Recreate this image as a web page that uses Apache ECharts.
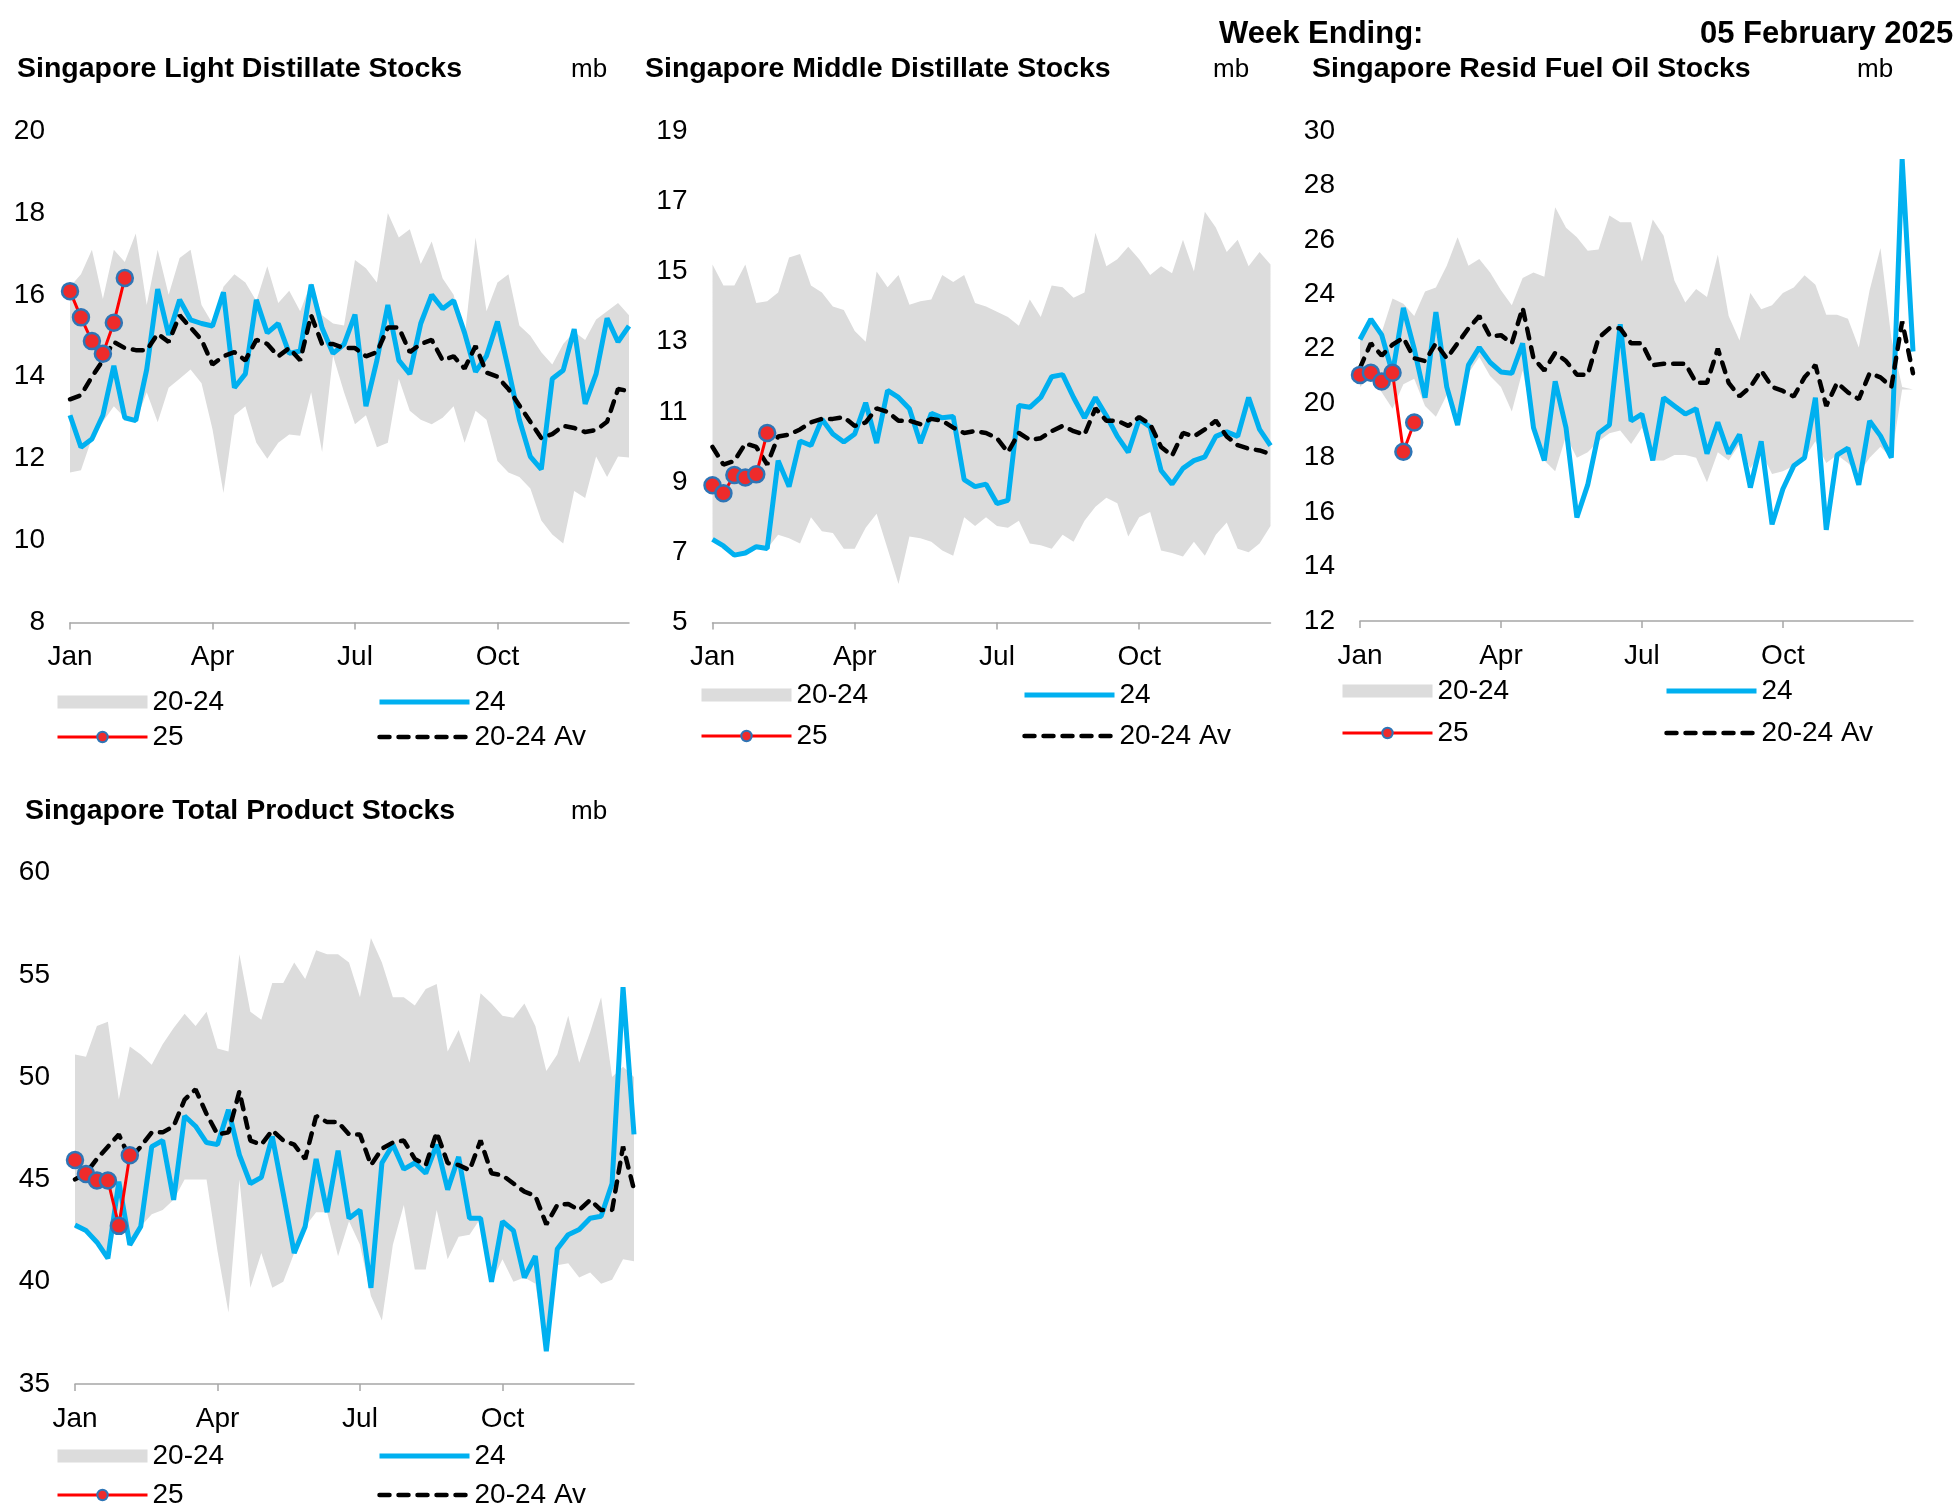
<!DOCTYPE html>
<html>
<head>
<meta charset="utf-8">
<script src="https://cdn.jsdelivr.net/npm/echarts@6/dist/echarts.min.js"></script>
<style>
html, body { margin: 0; padding: 0; background: #fff; }
#main { width: 1960px; height: 1511px; }
</style>
</head>
<body>
<div id="main"></div>
<script>
// week categories (52 weekly points) and the month ticks
var weeks = [];
for (var w = 1; w <= 52; w++) weeks.push('W' + w);
var monthTickIdx = [0, 13, 26, 39];
var monthLabels = ['Jan', 'Apr', 'Jul', 'Oct'];

// Light distillates
var ldMin = [11.66, 11.72, 12.5, 12.9, 13.28, 13.0, 12.9, 13.62, 12.89, 13.73, 13.95, 14.18, 13.84, 12.72, 11.16, 13.06, 13.28, 12.39, 12.0, 12.39, 12.59, 12.56, 13.62, 12.16, 14.51, 13.62, 12.84, 13.06, 12.28, 12.39, 13.95, 13.17, 12.95, 12.84, 13.0, 13.28, 12.39, 13.17, 12.95, 11.94, 11.66, 11.55, 11.27, 10.49, 10.15, 9.93, 11.21, 11.04, 12.05, 11.55, 12.05, 12.03];
var ldMax = [16.2, 16.5, 17.1, 15.9, 17.1, 16.8, 17.5, 15.75, 17.1, 16.0, 16.9, 17.1, 15.75, 15.3, 16.2, 16.5, 16.3, 15.85, 16.7, 15.8, 16.1, 15.6, 16.3, 15.5, 15.3, 15.25, 16.85, 16.65, 16.3, 18.0, 17.4, 17.6, 16.75, 17.3, 16.4, 16.0, 14.95, 17.4, 15.6, 16.3, 16.5, 15.25, 15.0, 14.6, 14.3, 14.8, 15.1, 14.9, 15.4, 15.6, 15.8, 15.5];
var ld24 = [13.06, 12.28, 12.48, 13.06, 14.27, 13.0, 12.93, 14.18, 16.14, 15.02, 15.88, 15.39, 15.3, 15.24, 16.06, 13.73, 14.07, 15.88, 15.07, 15.3, 14.57, 14.63, 16.25, 15.19, 14.57, 14.79, 15.52, 13.28, 14.4, 15.75, 14.4, 14.07, 15.3, 16.0, 15.66, 15.86, 15.07, 14.12, 14.51, 15.35, 14.18, 12.95, 12.05, 11.74, 13.95, 14.16, 15.16, 13.34, 14.07, 15.43, 14.85, 15.24];
var ldAvg = [13.45, 13.55, 14.0, 14.4, 14.85, 14.7, 14.65, 14.65, 15.05, 14.85, 15.5, 15.2, 14.9, 14.3, 14.5, 14.6, 14.4, 14.9, 14.8, 14.5, 14.7, 14.4, 15.5, 14.8, 14.8, 14.7, 14.7, 14.5, 14.6, 15.2, 15.2, 14.6, 14.8, 14.9, 14.4, 14.5, 14.2, 14.75, 14.1, 14.0, 13.7, 13.3, 12.9, 12.5, 12.6, 12.8, 12.75, 12.65, 12.7, 12.9, 13.7, 13.65];
var ld25 = [16.09, 15.45, 14.87, 14.56, 15.32, 16.41];

// Middle distillates
var mdMin = [7.37, 7.18, 6.92, 6.98, 7.16, 7.11, 7.5, 7.4, 7.25, 8.0, 7.6, 7.55, 7.1, 7.1, 7.7, 8.1, 7.1, 6.1, 7.45, 7.4, 7.3, 7.05, 6.9, 8.0, 7.75, 8.0, 7.75, 7.7, 7.9, 7.25, 7.2, 7.1, 7.5, 7.3, 7.9, 8.3, 8.55, 8.4, 7.45, 8.0, 8.15, 7.05, 6.98, 6.88, 7.3, 6.9, 7.5, 7.85, 7.1, 7.0, 7.25, 7.75];
var mdMax = [15.2, 14.6, 14.6, 15.2, 14.1, 14.15, 14.4, 15.4, 15.5, 14.6, 14.4, 14.0, 13.9, 13.3, 13.0, 15.0, 14.55, 14.9, 14.05, 14.15, 14.2, 14.9, 14.7, 14.9, 14.1, 14.0, 13.85, 13.7, 13.45, 14.2, 13.7, 14.6, 14.55, 14.25, 14.4, 16.1, 15.15, 15.35, 15.7, 15.35, 14.9, 15.15, 14.95, 15.9, 15.0, 16.7, 16.25, 15.55, 15.9, 15.15, 15.55, 15.2];
var md24 = [7.37, 7.18, 6.92, 6.98, 7.16, 7.11, 9.61, 8.87, 10.17, 10.04, 10.79, 10.37, 10.14, 10.37, 11.26, 10.11, 11.61, 11.41, 11.09, 10.11, 10.96, 10.83, 10.87, 9.07, 8.87, 8.94, 8.39, 8.48, 11.18, 11.13, 11.41, 12.0, 12.06, 11.41, 10.83, 11.41, 10.89, 10.3, 9.85, 10.79, 10.57, 9.33, 8.94, 9.39, 9.61, 9.72, 10.3, 10.43, 10.3, 11.41, 10.5, 10.04];
var mdAvg = [10.0, 9.5, 9.6, 10.1, 10.0, 9.5, 10.3, 10.35, 10.5, 10.7, 10.8, 10.8, 10.85, 10.6, 10.7, 11.1, 11.0, 10.75, 10.75, 10.65, 10.8, 10.75, 10.55, 10.4, 10.45, 10.4, 10.25, 9.85, 10.4, 10.2, 10.25, 10.45, 10.6, 10.45, 10.35, 11.1, 10.75, 10.75, 10.6, 10.85, 10.65, 10.0, 9.75, 10.4, 10.3, 10.5, 10.75, 10.3, 10.05, 9.95, 9.9, 9.8];
var md25 = [8.91, 8.68, 9.2, 9.13, 9.22, 10.4];

// Resid fuel oil
var foMin = [20.6, 21.0, 20.4, 19.8, 20.7, 20.9, 19.9, 19.5, 20.3, 19.6, 21.1, 21.7, 21.0, 20.6, 19.7, 21.2, 19.2, 17.9, 17.5, 18.8, 18.0, 18.2, 18.6, 18.9, 19.0, 18.5, 19.1, 17.9, 17.9, 18.1, 18.1, 18.0, 17.1, 18.2, 17.9, 18.5, 17.6, 18.2, 17.4, 17.5, 17.7, 18.0, 18.6, 17.8, 18.1, 17.8, 17.4, 18.0, 18.4, 18.0, 20.5, 20.5];
var foMax = [22.4, 23.1, 22.6, 23.85, 23.65, 23.2, 24.1, 24.25, 25.05, 26.1, 25.05, 25.3, 24.8, 24.15, 23.6, 24.6, 24.8, 24.65, 27.2, 26.45, 26.1, 25.6, 25.65, 26.9, 26.65, 26.65, 25.2, 26.75, 26.15, 24.5, 23.7, 24.2, 23.9, 25.45, 23.2, 22.3, 24.05, 23.45, 23.6, 24.05, 24.25, 24.7, 24.35, 23.25, 23.25, 23.1, 22.05, 24.15, 25.7, 22.4, 20.6, 20.5];
var fo24 = [22.34, 23.09, 22.51, 21.1, 23.5, 22.0, 20.2, 23.35, 20.6, 19.2, 21.4, 22.05, 21.5, 21.15, 21.1, 22.2, 19.1, 17.9, 20.8, 19.1, 15.8, 17.0, 18.9, 19.2, 22.9, 19.35, 19.6, 17.9, 20.2, 19.9, 19.6, 19.8, 18.15, 19.3, 18.15, 18.85, 16.9, 18.6, 15.55, 16.85, 17.7, 18.0, 20.2, 15.35, 18.1, 18.35, 17.0, 19.35, 18.8, 18.0, 28.97, 21.9];
var foAvg = [21.3, 22.2, 21.75, 22.15, 22.4, 21.65, 21.55, 22.2, 21.65, 22.2, 22.75, 23.2, 22.45, 22.5, 22.2, 23.5, 21.65, 21.2, 21.85, 21.55, 21.05, 21.05, 22.4, 22.75, 22.75, 22.2, 22.2, 21.4, 21.45, 21.45, 21.45, 20.75, 20.75, 22.0, 20.75, 20.25, 20.6, 21.2, 20.6, 20.45, 20.25, 20.95, 21.4, 19.9, 20.75, 20.4, 20.15, 21.1, 20.95, 20.6, 23.0, 21.1];
var fo25 = [21.04, 21.12, 20.8, 21.12, 18.22, 19.29];

// Total products
var tpMin = [42.6, 42.4, 41.9, 41.1, 43.2, 41.8, 42.7, 43.3, 43.5, 44.0, 45.0, 45.0, 45.0, 41.5, 38.5, 45.0, 39.7, 41.4, 39.7, 40.0, 41.4, 42.7, 43.4, 43.4, 41.25, 42.95, 41.8, 39.3, 38.1, 41.8, 43.75, 40.6, 40.6, 43.5, 41.1, 42.2, 42.3, 43.1, 40.0, 41.1, 40.0, 40.2, 39.9, 36.6, 40.8, 40.9, 40.2, 40.45, 39.9, 40.1, 41.1, 41.0];
var tpMax = [51.1, 51.0, 52.5, 52.7, 48.9, 51.5, 51.1, 50.6, 51.6, 52.4, 53.1, 52.5, 53.2, 51.4, 51.25, 56.0, 53.2, 52.8, 54.6, 54.6, 55.6, 54.8, 56.2, 56.0, 56.0, 55.6, 53.9, 56.8, 55.6, 53.9, 53.9, 53.5, 54.3, 54.55, 51.25, 52.3, 50.7, 54.1, 53.6, 53.0, 52.9, 53.6, 52.5, 50.3, 51.1, 53.0, 50.7, 52.2, 53.9, 50.0, 50.5, 50.0];
var tp24 = [42.77, 42.5, 41.93, 41.14, 44.89, 41.8, 42.7, 46.6, 46.9, 44.0, 48.1, 47.6, 46.8, 46.7, 48.4, 46.2, 44.8, 45.1, 47.1, 44.3, 41.4, 42.7, 46.0, 43.4, 46.4, 43.1, 43.5, 39.7, 45.8, 46.7, 45.5, 45.8, 45.3, 46.7, 44.5, 46.1, 43.1, 43.1, 40.0, 42.95, 42.5, 40.2, 41.25, 36.6, 41.6, 42.3, 42.55, 43.1, 43.2, 44.8, 54.4, 47.2];
var tpAvg = [45.0, 45.3, 46.0, 46.6, 47.2, 46.0, 46.6, 47.3, 47.3, 47.6, 48.9, 49.4, 48.2, 47.2, 47.3, 49.3, 46.9, 46.7, 47.4, 46.9, 46.7, 46.0, 48.1, 47.8, 47.8, 47.2, 47.2, 45.7, 46.5, 46.8, 46.9, 46.0, 45.7, 47.3, 45.8, 45.7, 45.45, 46.9, 45.3, 45.2, 44.8, 44.4, 44.2, 42.8, 43.75, 43.8, 43.5, 44.0, 43.5, 43.5, 46.6, 44.5];
var tp25 = [45.95, 45.27, 44.95, 44.95, 42.73, 46.18];

var FONT = 'Liberation Sans, Arial, sans-serif';
var BAND = '#dcdcdc', BLUE = '#00b0f0', RED = '#ff0000';

var panels = [
  { title: 'Singapore Light Distillate Stocks', tx: 17, ty: 55, mbx: 571,
    grid: { left: 70, top: 131, width: 559, height: 491.5 },
    y: [8, 20, 2], lo: ldMin, hi: ldMax, y24: ld24, av: ldAvg, y25: ld25,
    leg: { x1: 56, x2: 377, top: 688, gap: 7 } },
  { title: 'Singapore Middle Distillate Stocks', tx: 645, ty: 55, mbx: 1213,
    grid: { left: 712.5, top: 131, width: 558, height: 491.5 },
    y: [5, 19, 2], lo: mdMin, hi: mdMax, y24: md24, av: mdAvg, y25: md25,
    leg: { x1: 700, x2: 1022, top: 681, gap: 13 } },
  { title: 'Singapore Resid Fuel Oil Stocks', tx: 1312, ty: 55, mbx: 1857,
    grid: { left: 1360, top: 131, width: 553, height: 490 },
    y: [12, 30, 2], lo: foMin, hi: foMax, y24: fo24, av: foAvg, y25: fo25,
    leg: { x1: 1341, x2: 1664, top: 677, gap: 14 } },
  { title: 'Singapore Total Product Stocks', tx: 25, ty: 797, mbx: 571,
    grid: { left: 75, top: 872.5, width: 559, height: 511.5 },
    y: [35, 60, 5], lo: tpMin, hi: tpMax, y24: tp24, av: tpAvg, y25: tp25,
    leg: { x1: 56, x2: 377, top: 1442, gap: 11 } }
];

var option = {
  animation: false,
  backgroundColor: '#fff',
  textStyle: { fontFamily: FONT },
  title: [
    { text: 'Week Ending:', left: 1219, top: 19, padding: 0,
      textStyle: { fontFamily: FONT, fontSize: 31, fontWeight: 'bold', color: '#000' } },
    { text: '05 February 2025', left: 1700, top: 19, padding: 0,
      textStyle: { fontFamily: FONT, fontSize: 31, fontWeight: 'bold', color: '#000' } }
  ],
  grid: [], xAxis: [], yAxis: [], series: [], legend: []
};

panels.forEach(function (p, k) {
  option.title.push({ text: p.title, left: p.tx, top: p.ty, padding: 0,
    textStyle: { fontFamily: FONT, fontSize: 28.5, fontWeight: 'bold', color: '#000' } });
  option.title.push({ text: 'mb', left: p.mbx, top: p.ty + 2, padding: 0,
    textStyle: { fontFamily: FONT, fontSize: 26, fontWeight: 'normal', color: '#000' } });

  option.grid.push(p.grid);
  option.xAxis.push({
    type: 'category', gridIndex: k, data: weeks, boundaryGap: false,
    axisLine: { lineStyle: { color: '#a6a6a6', width: 1.5 } },
    axisTick: { show: true, length: 7, lineStyle: { color: '#a6a6a6', width: 1.5 },
      interval: function (i) { return monthTickIdx.indexOf(i) >= 0; } },
    axisLabel: { margin: 21, fontSize: 28, color: '#000', fontFamily: FONT,
      interval: function (i) { return monthTickIdx.indexOf(i) >= 0; },
      formatter: function (v, i) { var j = monthTickIdx.indexOf(i); return j >= 0 ? monthLabels[j] : ''; } },
    splitLine: { show: false }
  });
  option.yAxis.push({
    type: 'value', gridIndex: k, min: p.y[0], max: p.y[1], interval: p.y[2],
    axisLine: { show: false }, axisTick: { show: false }, splitLine: { show: false },
    axisLabel: { margin: 25, fontSize: 28, color: '#000', fontFamily: FONT }
  });

  var diff = p.hi.map(function (v, i) { return +(v - p.lo[i]).toFixed(3); });
  option.series.push(
    { name: 'base' + k, type: 'line', xAxisIndex: k, yAxisIndex: k, stack: 'band' + k,
      data: p.lo, symbol: 'none', lineStyle: { width: 0, opacity: 0 }, silent: true },
    { name: '20-24', type: 'line', xAxisIndex: k, yAxisIndex: k, stack: 'band' + k,
      data: diff, symbol: 'none', lineStyle: { width: 0, opacity: 0 },
      itemStyle: { color: BAND }, areaStyle: { color: BAND, opacity: 1 } },
    { name: '24', type: 'line', xAxisIndex: k, yAxisIndex: k, data: p.y24,
      symbol: 'none', itemStyle: { color: BLUE }, lineStyle: { color: BLUE, width: 5 } },
    { name: '20-24 Av', type: 'line', xAxisIndex: k, yAxisIndex: k, data: p.av,
      symbol: 'none', itemStyle: { color: '#000' },
      lineStyle: { color: '#000', width: 4.5, type: [10, 9], cap: 'round' } },
    { name: '25', type: 'line', xAxisIndex: k, yAxisIndex: k, data: p.y25,
      symbol: 'circle', symbolSize: 16, showSymbol: true, showAllSymbol: true,
      itemStyle: { color: '#ee2b2b', borderColor: '#2e75b6', borderWidth: 2.5 },
      lineStyle: { color: RED, width: 3 } }
  );

  var legText = { fontFamily: FONT, fontSize: 28, color: '#000', lineHeight: 28 };
  var legBase = { orient: 'vertical', top: p.leg.top, itemWidth: 90, itemHeight: 13,
    itemGap: p.leg.gap, padding: 0, selectedMode: false, textStyle: legText };
  option.legend.push(
    Object.assign({}, legBase, { left: p.leg.x1,
      data: [{ name: '20-24', icon: 'rect', itemStyle: { color: BAND } },
             { name: '25', lineStyle: { width: 3 } }] }),
    Object.assign({}, legBase, { left: p.leg.x2,
      data: [{ name: '24', itemStyle: { opacity: 0 }, lineStyle: { width: 5 } },
             { name: '20-24 Av', itemStyle: { opacity: 0 },
               lineStyle: { width: 4.5, type: [10, 9], cap: 'round' } }] })
  );
});

var chart = echarts.init(document.getElementById('main'));
chart.setOption(option);
</script>
</body>
</html>
